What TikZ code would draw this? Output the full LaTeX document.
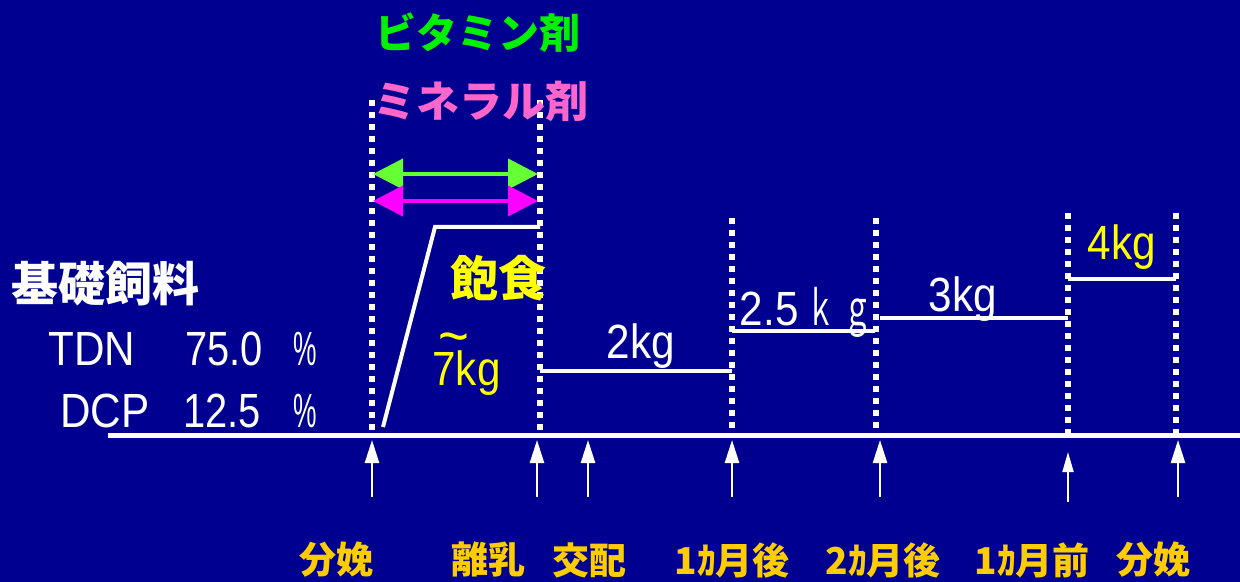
\documentclass[tikz,border=0pt]{standalone}
\usepackage{fontspec}
\setmainfont{Liberation Sans}
\newfontfamily\jp{Noto Sans CJK JP}
\usetikzlibrary{arrows.meta}
\definecolor{bg}{RGB}{0,0,144}
\definecolor{vitgreen}{RGB}{0,240,0}
\definecolor{arrgreen}{RGB}{102,255,51}
\definecolor{minpink}{RGB}{255,102,204}
\definecolor{arrmag}{RGB}{255,0,255}
\definecolor{ylw}{RGB}{255,255,0}
\definecolor{gold}{RGB}{255,204,0}
\newcommand{\latw}[1]{\scalebox{0.88}[1]{#1}}
\newcommand{\pctw}{\scalebox{0.55}[1]{\%}}
\tikzset{
  dotv/.style={white, line width=3pt, dash pattern=on 3pt off 3pt},
  wline/.style={white, line width=2pt},
  uparr/.style={white, line width=1.2pt, -{Triangle[length=11.5pt,width=7pt]}},
  uparrs/.style={white, line width=1pt, -{Triangle[length=10pt,width=5.5pt]}},
  dblarr/.style={line width=2pt, {Triangle[length=15pt,width=15pt]}-{Triangle[length=15pt,width=15pt]}},
  lat/.style={inner sep=0pt, font=\fontsize{24pt}{24pt}\selectfont},
  jpt/.style={inner sep=0pt, font=\jp\bfseries\fontsize{#1}{#1}\selectfont},
  bottomlbl/.style={inner sep=0pt, text=gold, font=\jp\bfseries\fontsize{18.5pt}{18.5pt}\selectfont}
}
\begin{document}
\begin{tikzpicture}[x=0.5pt,y=-0.5pt]
\fill[bg] (0,0) rectangle (1240,582);
\useasboundingbox (0,0) rectangle (1240,582);

% baseline
\coordinate (bl0) at (108,435);
\coordinate (bl1) at (1240,435);
\draw[white, line width=2.5pt] (bl0) -- (bl1);

% dotted verticals
\foreach \n/\x/\t in {a/372/100, b/540/100, c/732/218, d/876/218, e/1068/213, f/1176/213}{
  \coordinate (v\n top) at (\x,\t);
  \coordinate (v\n bot) at (\x,435);
  \draw[dotv] (v\n top) -- (v\n bot);
}

% double arrows
\coordinate (ga) at (373,174);
\coordinate (gb) at (538,174);
\coordinate (ma) at (373,201);
\coordinate (mb) at (538,201);
\draw[dblarr, arrgreen] (ga) -- (gb);
\draw[dblarr, arrmag] (ma) -- (mb);

% ramp and steps
\coordinate (r0) at (383,427);
\coordinate (r1) at (435,227);
\coordinate (r2) at (540,227);
\draw[wline] (r0) -- (r1) -- (r2);
\coordinate (s1a) at (540,371); \coordinate (s1b) at (732,371);
\coordinate (s2a) at (732,331); \coordinate (s2b) at (875,331);
\coordinate (s3a) at (880,318); \coordinate (s3b) at (1068,318);
\coordinate (s4a) at (1068,279); \coordinate (s4b) at (1176,279);
\draw[wline] (s1a) -- (s1b);
\draw[wline] (s2a) -- (s2b);
\draw[wline] (s3a) -- (s3b);
\draw[wline] (s4a) -- (s4b);

% top labels
\node[jpt=20.5pt, text=vitgreen] (vit) at (478,33) {ビタミン剤};
\node[jpt=21.5pt, text=minpink] (min) at (481,101) {ミネラル剤};
\node[jpt=24pt, text=ylw] (hoshoku) at (498,278) {飽食};
\node[lat, text=ylw, anchor=base west] (k7) at (432,385) {\latw{\makebox[0pt][l]{\hspace{3.5pt}\raisebox{14pt}{\fontsize{30pt}{30pt}\selectfont\textasciitilde}}7kg}};
\node[lat, text=white, anchor=base] (k2) at (641,358) {\latw{2kg}};
\node[lat, text=white, anchor=base] (k25) at (806,325) {\latw{2.5}\,\scalebox{0.6}[1]{\jp ｋ}\,\scalebox{0.6}[1]{\jp ｇ}};
\node[lat, text=white, anchor=base] (k3) at (963,312) {\latw{3kg}};
\node[lat, text=ylw, anchor=base] (k4) at (1122,260) {\latw{4kg}};

% left labels
\node[jpt=23.5pt, text=white] (kiso) at (105,284) {基礎飼料};
\node[lat, text=white, anchor=base west] (tdn) at (48,365) {\latw{TDN}};
\node[lat, text=white, anchor=base west] (tdnv) at (185,365) {\scalebox{0.83}[1]{75.0}};
\node[lat, text=white, anchor=base west] (tdnp) at (293,365) {\pctw};
\node[lat, text=white, anchor=base west] (dcp) at (60,427) {\latw{DCP}};
\node[lat, text=white, anchor=base west] (dcpv) at (183,427) {\scalebox{0.83}[1]{12.5}};
\node[lat, text=white, anchor=base west] (dcpp) at (293,427) {\pctw};

% up arrows
\foreach \n/\x in {1/372, 2/537, 3/588, 4/732, 5/880, 7/1178}{
  \coordinate (ua\n) at (\x,497);
  \coordinate (ut\n) at (\x,440);
  \draw[uparr] (ua\n) -- (ut\n);
}
\coordinate (ua6) at (1068,502);
\coordinate (ut6) at (1068,452);
\draw[uparrs] (ua6) -- (ut6);

% bottom labels
\node[bottomlbl] (l1) at (336,560) {分娩};
\node[bottomlbl] (l2) at (488,560) {離乳};
\node[bottomlbl] (l3) at (589,560) {交配};
\node[bottomlbl] (l4) at (732,560) {1ｶ月後};
\node[bottomlbl] (l5) at (883,560) {2ｶ月後};
\node[bottomlbl] (l6) at (1032,560) {1ｶ月前};
\node[bottomlbl] (l7) at (1153,560) {分娩};
\end{tikzpicture}
\end{document}
